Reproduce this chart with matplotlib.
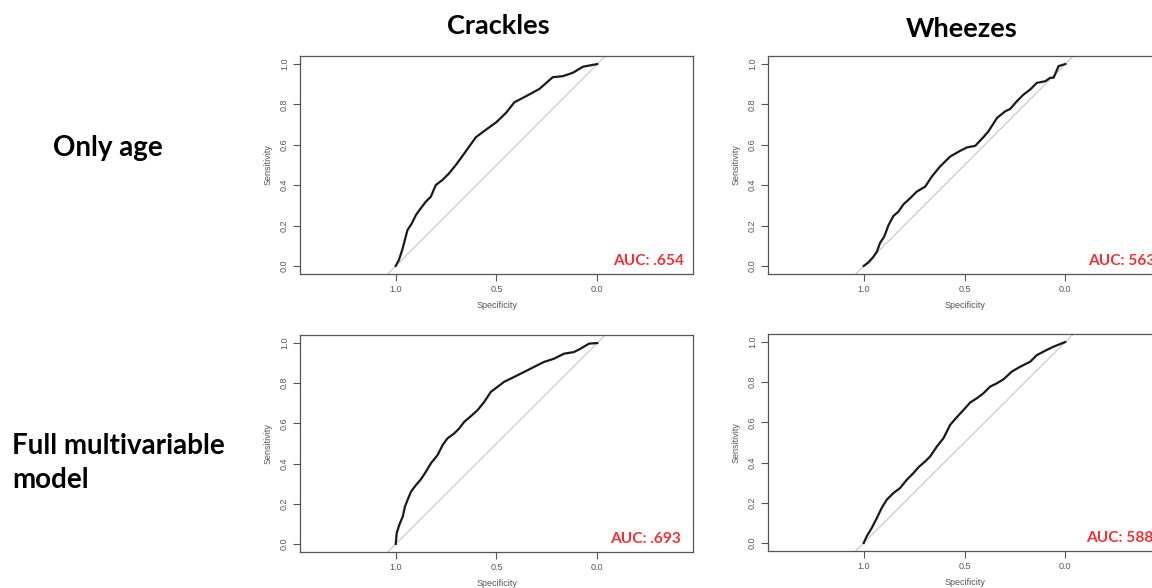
#!/usr/bin/env python3
"""
ROC curves grid: crackles / wheezes, only-age vs full multivariable model.
Recreated as a 2x2 figure in the R pROC style.
"""

import matplotlib
matplotlib.use("Agg")
import matplotlib.pyplot as plt

# --- data (specificity, sensitivity) ---
columns = ["Crackles", "Wheezes"]
rows = ["Only age", "Full multivariable\nmodel"]

crackles_age_spec = [1.0, 0.985, 0.968, 0.954, 0.942, 0.920, 0.900, 0.876, 0.851, 0.826,
                     0.801, 0.768, 0.735, 0.701, 0.668, 0.635, 0.602, 0.552, 0.502, 0.453,
                     0.411, 0.353, 0.287, 0.221, 0.171, 0.121, 0.071, 0.0]
crackles_age_sens = [0.0, 0.028, 0.078, 0.131, 0.177, 0.211, 0.252, 0.285, 0.318, 0.343,
                     0.401, 0.426, 0.459, 0.501, 0.546, 0.592, 0.638, 0.675, 0.711, 0.758,
                     0.811, 0.841, 0.877, 0.935, 0.940, 0.957, 0.987, 1.0]

wheezes_age_spec = [1.0, 0.977, 0.952, 0.935, 0.919, 0.899, 0.877, 0.853, 0.828, 0.803,
                    0.770, 0.737, 0.695, 0.662, 0.621, 0.571, 0.522, 0.488, 0.447, 0.406,
                    0.381, 0.339, 0.298, 0.273, 0.240, 0.207, 0.174, 0.141, 0.099, 0.075,
                    0.058, 0.033, 0.0]
wheezes_age_sens = [0.0, 0.017, 0.045, 0.070, 0.114, 0.144, 0.202, 0.247, 0.269, 0.305,
                    0.335, 0.368, 0.393, 0.443, 0.493, 0.542, 0.570, 0.587, 0.595, 0.638,
                    0.667, 0.733, 0.766, 0.778, 0.816, 0.849, 0.874, 0.907, 0.915, 0.932,
                    0.932, 0.990, 1.0]

crackles_full_spec = [1.0, 0.995, 0.982, 0.965, 0.954, 0.941, 0.924, 0.899, 0.875, 0.850,
                      0.825, 0.792, 0.767, 0.743, 0.710, 0.685, 0.660, 0.627, 0.594, 0.561,
                      0.528, 0.495, 0.462, 0.413, 0.363, 0.314, 0.264, 0.215, 0.165, 0.116,
                      0.083, 0.041, 0.0]
crackles_full_sens = [0.0, 0.055, 0.096, 0.137, 0.187, 0.220, 0.261, 0.294, 0.322, 0.360,
                      0.402, 0.443, 0.493, 0.526, 0.550, 0.575, 0.608, 0.636, 0.666, 0.707,
                      0.757, 0.782, 0.807, 0.831, 0.856, 0.881, 0.906, 0.922, 0.947, 0.955,
                      0.972, 0.997, 1.0]

wheezes_full_spec = [1.0, 0.985, 0.960, 0.935, 0.911, 0.886, 0.853, 0.820, 0.786, 0.753,
                     0.728, 0.695, 0.671, 0.637, 0.604, 0.571, 0.538, 0.505, 0.472, 0.439,
                     0.406, 0.373, 0.339, 0.306, 0.265, 0.224, 0.174, 0.141, 0.099, 0.058,
                     0.0]
wheezes_full_sens = [0.0, 0.033, 0.075, 0.124, 0.174, 0.215, 0.248, 0.273, 0.315, 0.348,
                     0.377, 0.406, 0.430, 0.480, 0.522, 0.588, 0.626, 0.662, 0.699, 0.720,
                     0.745, 0.778, 0.795, 0.815, 0.853, 0.877, 0.902, 0.935, 0.957, 0.977,
                     1.0]

auc_labels = ["AUC: .654", "AUC: 563", "AUC: .693", "AUC: 588"]

panels = [
    (crackles_age_spec, crackles_age_sens),
    (wheezes_age_spec, wheezes_age_sens),
    (crackles_full_spec, crackles_full_sens),
    (wheezes_full_spec, wheezes_full_sens),
]

W, H = 1152, 588
# axes boxes in pixels: left, top, width, height
boxes = [(300, 56, 393, 218), (768, 56, 393, 218),
         (300, 335, 393, 217), (768, 334, 393, 217)]
auc_x = [0.796, 0.814, 0.79, 0.81]

AUC_RED = "#EE3338"
GREY = "#555555"


def draw_roc(ax, spec, sens, auc_text, ax_x):
    ax.plot([1.1, -0.1], [-0.1, 1.1], color="#d0d0d0", lw=1.0, zorder=1)
    ax.plot(spec, sens, color="#1a1a1a", lw=1.6, zorder=2)
    ax.set_xlim(1.475, -0.475)
    ax.set_ylim(-0.04, 1.04)
    ax.set_xticks([1.0, 0.5, 0.0])
    ax.set_xticklabels(["1.0", "0.5", "0.0"])
    ax.set_yticks([0.0, 0.2, 0.4, 0.6, 0.8, 1.0])
    ax.set_yticklabels(["0.0", "0.2", "0.4", "0.6", "0.8", "1.0"],
                       rotation=90, va="center")
    ax.tick_params(length=5, width=0.8, color=GREY, labelcolor=GREY,
                   labelsize=6.5, pad=3)
    for sp in ax.spines.values():
        sp.set_color(GREY)
        sp.set_linewidth(0.9)
    ax.set_xlabel("Specificity", fontsize=6.5, color=GREY, labelpad=5,
                  family="Liberation Sans")
    ax.set_ylabel("Sensitivity", fontsize=6.5, color=GREY, labelpad=5,
                  family="Liberation Sans")
    for lab in ax.get_xticklabels() + ax.get_yticklabels():
        lab.set_family("Liberation Sans")
    ax.text(ax_x, 0.04, auc_text, transform=ax.transAxes, ha="left",
            va="baseline", color=AUC_RED, fontsize=11.2, fontweight="bold",
            family="Lato")


def main():
    fig = plt.figure(figsize=(W / 100, H / 100), dpi=100)

    for i, (spec, sens) in enumerate(panels):
        l, t, w, h = boxes[i]
        ax = fig.add_axes([l / W, (H - t - h) / H, w / W, h / H])
        draw_roc(ax, spec, sens, auc_labels[i], auc_x[i])

    # column headers
    fig.text(498 / W, 1 - 26 / H, columns[0], ha="center", va="center",
             fontsize=19.5, fontweight="bold", family="Lato")
    fig.text(962 / W, 1 - 29 / H, columns[1], ha="center", va="center",
             fontsize=19.5, fontweight="bold", family="Lato")

    # row headers
    fig.text(53 / W, 1 - 148 / H, rows[0], ha="left", va="center",
             fontsize=20, fontweight="bold", family="Lato")
    fig.text(12 / W, 1 - 463 / H, rows[1], ha="left", va="center",
             fontsize=20, fontweight="bold", family="Lato", linespacing=1.35)

    fig.savefig("out.png", dpi=100)


if __name__ == "__main__":
    main()
